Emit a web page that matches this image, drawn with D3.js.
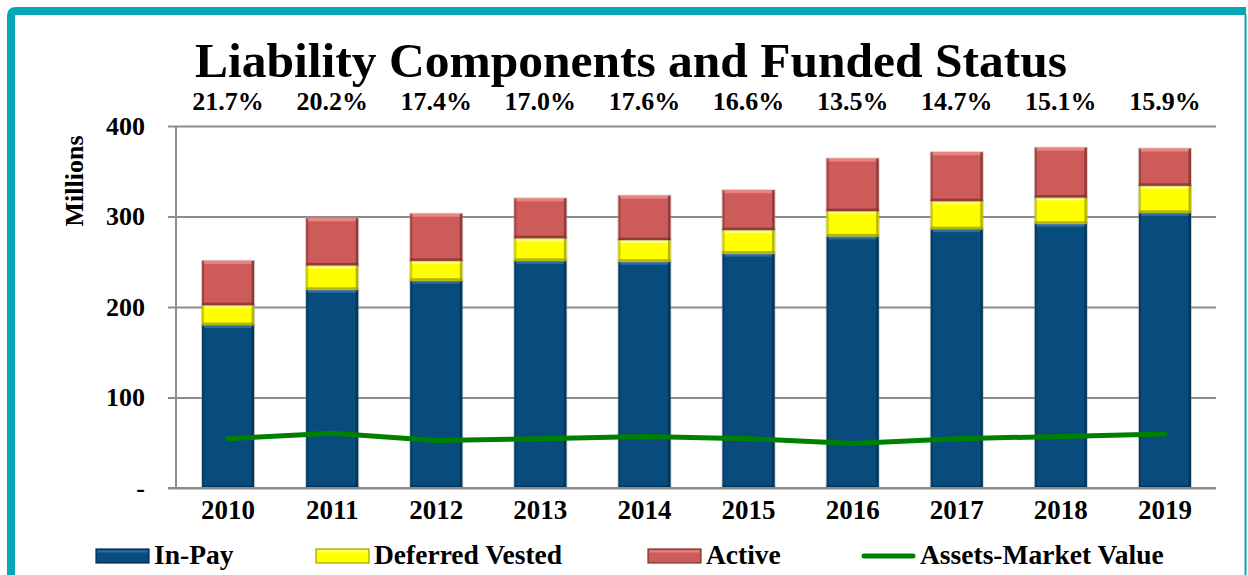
<!DOCTYPE html>
<html>
<head>
<meta charset="utf-8">
<script src="https://cdn.jsdelivr.net/npm/d3@7"></script>
<style>
  html, body { margin: 0; padding: 0; background: #fff; }
  svg { display: block; }
  text { font-family: "Liberation Serif", "Times New Roman", serif; font-weight: bold; fill: #000; }
</style>
</head>
<body>
<svg id="chart" width="1248" height="575"></svg>
<script>
// Liability components (millions) by plan year
const years = ["2010", "2011", "2012", "2013", "2014", "2015", "2016", "2017", "2018", "2019"];
const inPay = [180, 219, 229, 251, 250, 259, 278, 286, 292, 304];
const deferredVested = [22, 27, 22, 25, 24, 26, 28, 31, 29, 30];
const active = [49, 52, 52, 44, 49, 44, 58, 54, 55, 41];
const assetsMarketValue = [54.5, 60.5, 52.5, 54.5, 57, 54.5, 49.2, 54.5, 57, 59.6];
const fundedStatus = ["21.7%", "20.2%", "17.4%", "17.0%", "17.6%", "16.6%", "13.5%", "14.7%", "15.1%", "15.9%"];
const yTicks = [0, 100, 200, 300, 400];

const seriesNames = ["In-Pay", "Deferred Vested", "Active"];
const seriesValues = [inPay, deferredVested, active];
const seriesStyle = {
  "In-Pay":          { fill: "#074C7C", light: "#2F72A6", dark: "#03304F" },
  "Deferred Vested": { fill: "#FFFF00", light: "#FFFF80", dark: "#9E9E00" },
  "Active":          { fill: "#CD5B59", light: "#EE8785", dark: "#7E3230" }
};

const svg = d3.select("#chart");

// Frame
svg.append("path")
  .attr("d", "M11,575 L11,16 Q11,11 16,11 L1246,11")
  .attr("fill", "none")
  .attr("stroke", "#07A6B6")
  .attr("stroke-width", 8);
svg.append("line")
  .attr("x1", 1245.5).attr("x2", 1245.5).attr("y1", 14).attr("y2", 575)
  .attr("stroke", "#07A6B6").attr("stroke-width", 2);

const x = d3.scaleBand().domain(years).range([176, 1217]).paddingInner(0.5).paddingOuter(0.25);
const y = d3.scaleLinear().domain([0, 400]).range([488, 126]);

// Title
svg.append("text")
  .attr("x", 631).attr("y", 77)
  .attr("text-anchor", "middle")
  .style("font-size", "49.5px")
  .text("Liability Components and Funded Status");

// Gridlines
const grid = svg.append("g")
  .attr("transform", "translate(176,0)")
  .call(d3.axisLeft(y).tickValues(yTicks).tickSize(-(1216 - 176)).tickFormat(""));
grid.select(".domain").remove();
grid.selectAll(".tick line").attr("stroke", "#8C8C8C").attr("stroke-width", 2);

// Y axis with tick marks and labels
const yAxis = svg.append("g")
  .attr("transform", "translate(176,0)")
  .call(d3.axisLeft(y).tickValues(yTicks).tickSize(8).tickPadding(23)
    .tickFormat(d => d === 0 ? "-" : d3.format("d")(d)));
yAxis.select(".domain").attr("stroke", "#8C8C8C").attr("stroke-width", 2)
  .attr("d", `M0,${y(400)}V${y(0)}`);
yAxis.selectAll(".tick line").attr("stroke", "#8C8C8C").attr("stroke-width", 2);
yAxis.selectAll(".tick text")
  .style("font-size", "26px")
  .style("font-family", "'Liberation Serif', 'Times New Roman', serif")
  .style("font-weight", "bold")
  .attr("fill", "#000");

// Axis title
svg.append("text")
  .attr("transform", "translate(83,181) rotate(-90)")
  .attr("text-anchor", "middle")
  .style("font-size", "26px")
  .text("Millions");

// Stacked bars
const stackData = years.map((yr, i) => {
  const row = { year: yr };
  seriesNames.forEach((n, k) => { row[n] = seriesValues[k][i]; });
  return row;
});
const stacked = d3.stack().keys(seriesNames)(stackData);

const bw = x.bandwidth();
const layers = svg.append("g").selectAll("g")
  .data(stacked)
  .join("g");

layers.each(function (layer) {
  const st = seriesStyle[layer.key];
  const g = d3.select(this);
  const segs = g.selectAll("g.seg").data(layer).join("g").attr("class", "seg");
  segs.each(function (d) {
    const s = d3.select(this);
    const x0 = x(d.data.year);
    const yTop = y(d[1]);
    const h = y(d[0]) - y(d[1]);
    s.append("rect").attr("x", x0 - 0.5).attr("y", yTop - 0.5).attr("width", bw + 1).attr("height", h + 1)
      .attr("fill", "none").attr("stroke", "rgba(150,150,150,0.45)").attr("stroke-width", 1);
    s.append("rect").attr("x", x0).attr("y", yTop).attr("width", bw).attr("height", h).attr("fill", st.fill);
    // bevel edges
    s.append("rect").attr("x", x0).attr("y", yTop).attr("width", 2).attr("height", h).attr("fill", st.dark).attr("opacity", 0.55);
    s.append("rect").attr("x", x0 + bw - 2.5).attr("y", yTop).attr("width", 2.5).attr("height", h).attr("fill", st.dark).attr("opacity", 0.75);
    s.append("rect").attr("x", x0).attr("y", yTop + h - 2.5).attr("width", bw).attr("height", 2.5).attr("fill", st.dark).attr("opacity", 0.75);
    s.append("rect").attr("x", x0 + 2).attr("y", yTop).attr("width", bw - 4.5).attr("height", 3).attr("fill", st.light).attr("opacity", 0.9);
  });
});

// Bottom axis line
svg.append("line")
  .attr("x1", 168).attr("x2", 1216).attr("y1", y(0)).attr("y2", y(0))
  .attr("stroke", "#8C8C8C").attr("stroke-width", 2);

// Assets line
const line = d3.line()
  .x((d, i) => x(years[i]) + bw / 2)
  .y(d => y(d));
svg.append("path")
  .datum(assetsMarketValue)
  .attr("d", line)
  .attr("fill", "none")
  .attr("stroke", "#008000")
  .attr("stroke-width", 5)
  .attr("stroke-linejoin", "round")
  .attr("stroke-linecap", "round");

// X axis labels
const xAxis = svg.append("g")
  .attr("transform", `translate(0,${y(0)})`)
  .call(d3.axisBottom(x).tickSize(0).tickPadding(12));
xAxis.select(".domain").remove();
xAxis.selectAll(".tick text")
  .style("font-size", "27px")
  .style("font-family", "'Liberation Serif', 'Times New Roman', serif")
  .style("font-weight", "bold")
  .attr("fill", "#000");

// Funded status labels
svg.append("g").selectAll("text")
  .data(fundedStatus)
  .join("text")
  .attr("x", (d, i) => x(years[i]) + bw / 2)
  .attr("y", 110)
  .attr("text-anchor", "middle")
  .style("font-size", "26px")
  .text(d => d);

// Legend
const legendItems = [
  { name: "In-Pay", type: "bar", x: 96 },
  { name: "Deferred Vested", type: "bar", x: 316 },
  { name: "Active", type: "bar", x: 648 },
  { name: "Assets-Market Value", type: "line", x: 862 }
];
const lg = svg.append("g").selectAll("g").data(legendItems).join("g");
lg.each(function (d) {
  const g = d3.select(this);
  if (d.type === "bar") {
    const st = seriesStyle[d.name];
    g.append("rect").attr("x", d.x).attr("y", 549).attr("width", 53).attr("height", 14).attr("fill", st.fill)
      .attr("stroke", st.dark).attr("stroke-width", 1.2);
    g.append("rect").attr("x", d.x + 1.5).attr("y", 550.5).attr("width", 50).attr("height", 2).attr("fill", st.light).attr("opacity", 0.9);
  } else {
    g.append("line").attr("x1", d.x + 2).attr("x2", d.x + 51).attr("y1", 556).attr("y2", 556)
      .attr("stroke", "#008000").attr("stroke-width", 5).attr("stroke-linecap", "round");
  }
  g.append("text").attr("x", d.x + 58).attr("y", 564)
    .style("font-size", "27.5px")
    .text(d.name);
});
</script>
</body>
</html>
